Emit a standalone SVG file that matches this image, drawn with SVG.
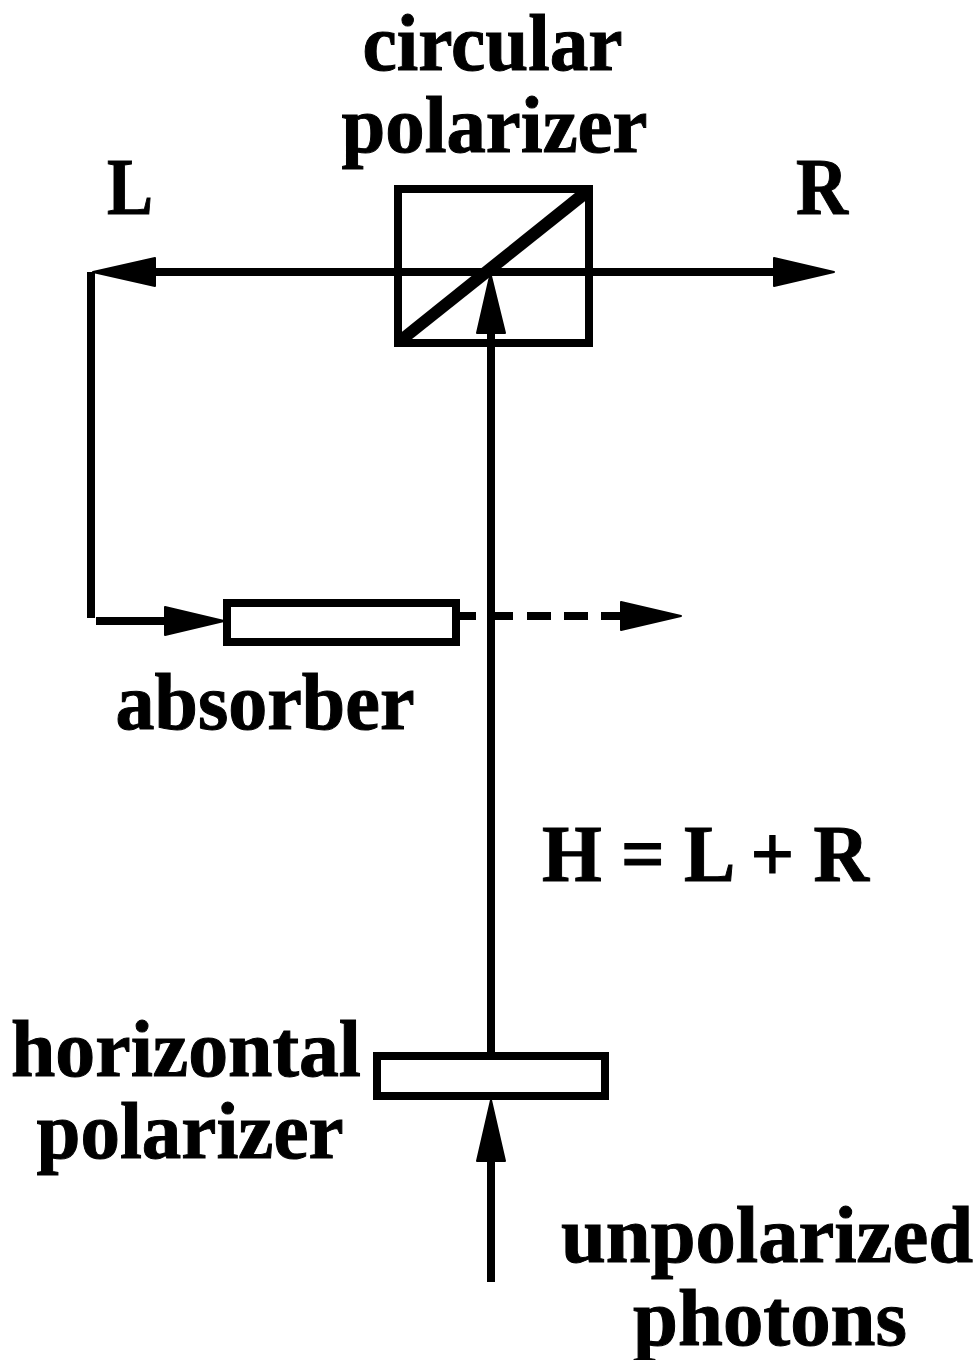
<svg xmlns="http://www.w3.org/2000/svg" width="979" height="1360" viewBox="0 0 979 1360">
<style>
.t{font-family:"Liberation Serif","Times New Roman",serif;font-weight:bold;font-size:80px;fill:#000;stroke:#000;stroke-width:1;text-anchor:middle}
.l{fill:none;stroke:#000;stroke-width:8}
.b{fill:#fff;stroke:#000;stroke-width:8}
.a{fill:#000;stroke:#000;stroke-width:2;stroke-linejoin:round}
</style>
<rect width="979" height="1360" fill="#fff"/>
<g id="connectors">
<path class="l" d="M491 1282V1130"/>
<path class="a" d="M491 1100L505 1161H477Z"/>
<path class="l" d="M491 1055V320"/>
<path class="l" d="M120 272H800"/>
<path class="a" d="M93 272L155 258V286Z"/>
<path class="a" d="M834 272L774 258V286Z"/>
<path class="l" d="M91 272V618"/>
<path class="l" d="M96 621H190"/>
<path class="a" d="M224 621L165 607V635Z"/>
<path class="l" d="M460 616H476M495 616H513M527 616H551M564 616H588M601 616H625"/>
<path class="a" d="M681 616L621 602V630Z"/>
</g>
<g id="circular-polarizer">
<rect class="l" x="398" y="189" width="191" height="154"/>
<path fill="#000" d="M398 335L580 189H589V198L407 343H398Z"/>
<path class="a" d="M490.500 274L505 333H477Z"/>
<text class="t" x="492.500" y="70" textLength="260" lengthAdjust="spacingAndGlyphs">circular</text>
<text class="t" x="494.500" y="152" textLength="306" lengthAdjust="spacingAndGlyphs">polarizer</text>
</g>
<g id="absorber">
<rect class="b" x="227" y="603" width="229" height="39"/>
<text class="t" x="265" y="729" textLength="299" lengthAdjust="spacingAndGlyphs">absorber</text>
</g>
<g id="horizontal-polarizer">
<rect class="b" x="377" y="1056" width="228" height="40"/>
<text class="t" x="186" y="1076" textLength="350" lengthAdjust="spacingAndGlyphs">horizontal</text>
<text class="t" x="190" y="1158" textLength="307" lengthAdjust="spacingAndGlyphs">polarizer</text>
</g>
<g id="labels">
<text class="t" x="130" y="214" textLength="46" lengthAdjust="spacingAndGlyphs">L</text>
<text class="t" x="822" y="214" textLength="52" lengthAdjust="spacingAndGlyphs">R</text>
<text class="t" x="705.500" y="881" textLength="327" lengthAdjust="spacingAndGlyphs">H = L + R</text>
<text class="t" x="767" y="1262" textLength="412" lengthAdjust="spacingAndGlyphs">unpolarized</text>
<text class="t" x="770" y="1345" textLength="274" lengthAdjust="spacingAndGlyphs">photons</text>
</g>
</svg>
